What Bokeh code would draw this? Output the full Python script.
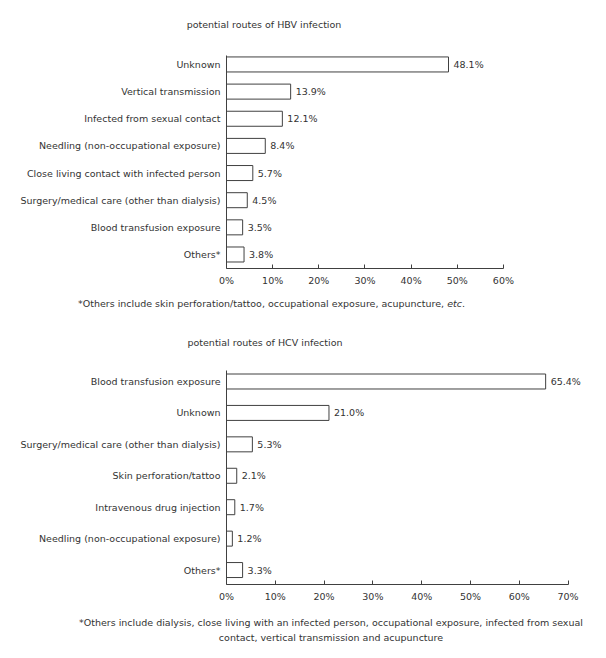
from bokeh.plotting import figure
from bokeh.models import ColumnDataSource, FixedTicker, PrintfTickFormatter, Div
from bokeh.layouts import column
from bokeh.core.properties import value
from bokeh.embed import file_html
from bokeh.resources import INLINE

# ---------------- data ----------------
hbv_routes = ["Unknown", "Vertical transmission", "Infected from sexual contact",
              "Needling (non-occupational exposure)", "Close living contact with infected person",
              "Surgery/medical care (other than dialysis)", "Blood transfusion exposure", "Others*"]
hbv_pct = [48.1, 13.9, 12.1, 8.4, 5.7, 4.5, 3.5, 3.8]
hbv_ticks = [0, 10, 20, 30, 40, 50, 60]

hcv_routes = ["Blood transfusion exposure", "Unknown", "Surgery/medical care (other than dialysis)",
              "Skin perforation/tattoo", "Intravenous drug injection",
              "Needling (non-occupational exposure)", "Others*"]
hcv_pct = [65.4, 21.0, 5.3, 2.1, 1.7, 1.2, 3.3]
hcv_ticks = [0, 10, 20, 30, 40, 50, 60, 70]

hbv_title = "potential routes of HBV infection"
hcv_title = "potential routes of HCV infection"
hbv_note = "*Others include skin perforation/tattoo, occupational exposure, acupuncture, "
hbv_note_it = "etc"
hcv_note_1 = "*Others include dialysis, close living with an infected person, occupational exposure, infected from sexual"
hcv_note_2 = "contact, vertical transmission and acupuncture"

FONT = "DejaVu Sans"
FS = "9.5px"
TXT = "#333333"
LINE = "#404040"
W = 600


def make_chart(routes, pct, ticks, x_end, y_lo, y_hi, bar_h, frame_h):
    n = len(routes)
    ypos = [n - 1 - i for i in range(n)]
    src = ColumnDataSource(dict(y=ypos, v=pct, lab=[f"{v:.1f}%" for v in pct]))
    b_top, b_bottom = 4, 26
    p = figure(width=W, height=b_top + frame_h + b_bottom, title=None,
               toolbar_location=None, output_backend="svg",
               x_range=(0, x_end), y_range=(y_lo, y_hi))
    p.min_border_left = 226
    p.min_border_top = b_top
    p.min_border_bottom = b_bottom
    p.min_border_right = 8
    p.outline_line_color = None
    p.grid.visible = False
    p.background_fill_color = "white"
    p.border_fill_color = "white"

    p.hbar(y="y", left=0, right="v", height=bar_h, source=src,
           fill_color="white", line_color=LINE, line_width=1)
    p.text(x="v", y="y", text="lab", source=src, x_offset=5,
           text_baseline="middle", text_align="left",
           text_font=value(FONT), text_font_size=FS, text_color=TXT)

    xa = p.xaxis[0]
    xa.ticker = FixedTicker(ticks=ticks)
    xa.formatter = PrintfTickFormatter(format="%d%%")
    xa.bounds = (ticks[0], ticks[-1])
    xa.major_tick_in = 4
    xa.major_tick_out = 0
    xa.minor_tick_line_color = None
    xa.axis_line_color = LINE
    xa.major_tick_line_color = LINE
    xa.major_label_text_font = FONT
    xa.major_label_text_font_size = FS
    xa.major_label_text_color = TXT
    xa.major_label_standoff = 6

    ya = p.yaxis[0]
    ya.ticker = FixedTicker(ticks=ypos)
    ya.major_label_overrides = {y: r for y, r in zip(ypos, routes)}
    ya.major_tick_in = 0
    ya.major_tick_out = 0
    ya.minor_tick_line_color = None
    ya.axis_line_color = LINE
    ya.major_label_text_font = FONT
    ya.major_label_text_font_size = FS
    ya.major_label_text_color = TXT
    ya.major_label_standoff = 6
    return p


def text_div(html, height, pad_top, inner_style):
    base = (f"font-family:'{FONT}';font-size:{FS};color:{TXT};line-height:12px;"
            f"white-space:nowrap;padding-top:{pad_top}px;margin:0;")
    return Div(text=f'<div style="{base}{inner_style}">{html}</div>',
               width=W, height=height, margin=0)


# HBV  (frame 366 px wide: 0-60% spans ~277 px)
t1 = text_div(hbv_title, 51, 19, "width:528px;text-align:center;")
p1 = make_chart(hbv_routes, hbv_pct, hbv_ticks, 79.3, -0.516, 7.33, 0.553, 213)
n1 = text_div(f"{hbv_note}<i>{hbv_note_it}</i>.", 34, 4, "width:465px;text-align:right;")

# HCV  (frame 366 px wide: 0-70% spans ~342 px)
t2 = text_div(hcv_title, 38, 9, "width:530px;text-align:center;")
p2 = make_chart(hcv_routes, hcv_pct, hcv_ticks, 75, -0.46, 6.35, 0.477, 214)
n2 = text_div(f"{hcv_note_1}<br>{hcv_note_2}", 40, 6,
              "width:538px;margin-left:62px;text-align:center;line-height:14.7px;")

layout = column(t1, p1, n1, t2, p2, n2, spacing=0)
open("out.html", "w").write(file_html(layout, INLINE))
